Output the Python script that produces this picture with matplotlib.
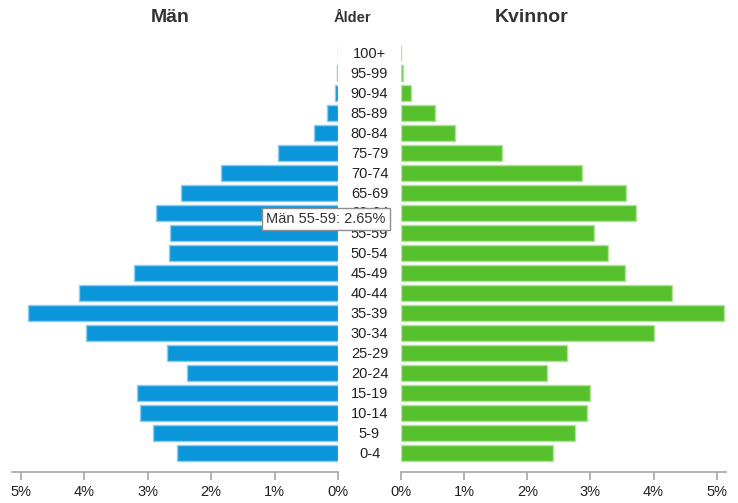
import matplotlib
matplotlib.use("Agg")
import matplotlib.pyplot as plt
from matplotlib.ticker import FixedLocator, FuncFormatter

plt.rcParams['font.family'] = ['Liberation Sans', 'DejaVu Sans']

ages = ["0-4", "5-9", "10-14", "15-19", "20-24", "25-29", "30-34", "35-39", "40-44",
        "45-49", "50-54", "55-59", "60-64", "65-69", "70-74", "75-79", "80-84",
        "85-89", "90-94", "95-99", "100+"]
men = [2.54, 2.91, 3.12, 3.17, 2.38, 2.69, 3.98, 4.88, 4.08, 3.22, 2.66, 2.65,
       2.87, 2.48, 1.84, 0.95, 0.385, 0.17, 0.04, 0.01, 0.0]
women = [2.40, 2.75, 2.95, 2.99, 2.32, 2.63, 4.00, 5.12, 4.30, 3.55, 3.28, 3.05,
         3.73, 3.57, 2.86, 1.60, 0.86, 0.54, 0.16, 0.025, 0.0]
ticks = [0, 1, 2, 3, 4, 5]
tooltip = "Män 55-59: 2.65%"

W, H = 738, 503
fig = plt.figure(figsize=(W / 100, H / 100), dpi=100)

def fx(px):
    return px / W

def fy(py):
    return 1 - py / H

blue = "#0b96da"
blue_edge = "#8fcdee"
green = "#57c02d"
green_edge = "#b2e39d"
axis_col = "#a6a6a6"
text_col = "#222222"

xmax = 5.14
top, bottom = 43, 472
ax_h = (bottom - top) / H

axL = fig.add_axes([fx(12), fy(bottom), fx(338) - fx(12), ax_h])
axR = fig.add_axes([fx(401), fy(bottom), fx(725.5) - fx(401), ax_h])

pos = list(range(len(ages)))
axL.barh(pos, men, height=0.83, color=blue, edgecolor=blue_edge, linewidth=1.0)
axR.barh(pos, women, height=0.83, color=green, edgecolor=green_edge, linewidth=1.0)

axL.set_xlim(xmax, 0)
axR.set_xlim(0, xmax)

for ax in (axL, axR):
    ax.set_ylim(-0.95, 20.5)
    for s in ("top", "left", "right"):
        ax.spines[s].set_visible(False)
    ax.spines["bottom"].set_color(axis_col)
    ax.spines["bottom"].set_linewidth(1.2)
    ax.set_yticks([])
    ax.xaxis.set_major_locator(FixedLocator(ticks))
    ax.xaxis.set_major_formatter(FuncFormatter(lambda v, p: f"{int(round(v))}%"))
    ax.tick_params(axis="x", colors=axis_col, length=6, width=1.2,
                   labelcolor=text_col, labelsize=10.5, pad=3)
    ax.set_facecolor("none")

for i, a in enumerate(ages):
    fig.text(fx(369.5), fy(453.5 - 20 * i), a, ha="center", va="center",
             fontsize=10.5, color=text_col)

fig.text(fx(170.5), fy(17), "Män", ha="center", va="center", fontsize=14,
         fontweight="bold", color="#333333")
fig.text(fx(352.5), fy(18), "Ålder", ha="center", va="center", fontsize=10.5,
         fontweight="bold", color="#333333")
fig.text(fx(532), fy(17), "Kvinnor", ha="center", va="center", fontsize=14,
         fontweight="bold", color="#333333")

fig.text(fx(326), fy(219), tooltip, ha="center", va="center", fontsize=10.5,
         color="#333333",
         bbox=dict(boxstyle="square,pad=0.3", facecolor="white",
                   edgecolor="#8c8c8c", linewidth=1.0))

fig.savefig("out.png", dpi=100)
